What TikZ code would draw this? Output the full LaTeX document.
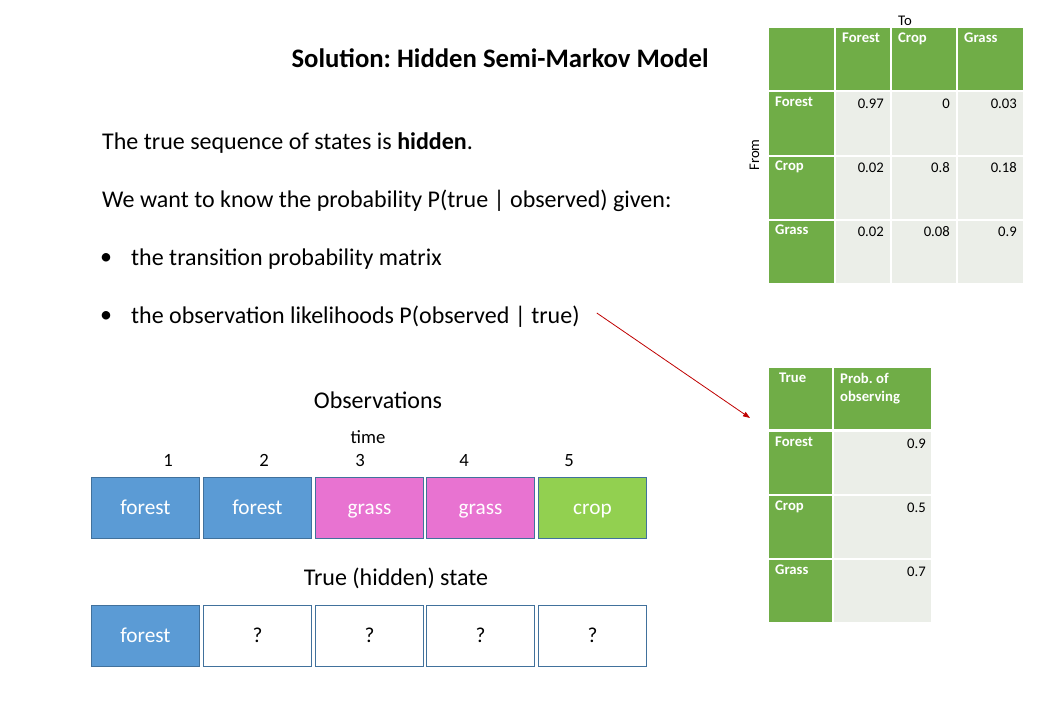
\documentclass[tikz,border=0pt]{standalone}
\usepackage{fontspec}
\setmainfont{Carlito}[Numbers=Lining]
\frenchspacing
\usetikzlibrary{arrows.meta}
\definecolor{fblue}{HTML}{5B9BD5}
\definecolor{fpink}{HTML}{E873D1}
\definecolor{fgreen}{HTML}{92D050}
\definecolor{bedge}{HTML}{41719C}
\definecolor{tgreen}{HTML}{70AD47}
\definecolor{tlight}{HTML}{EBEEE8}
\definecolor{arrred}{HTML}{C00000}
\tikzset{
  body/.style={font=\fontsize{24}{29}\selectfont, inner sep=0pt, anchor=west},
  num/.style={font=\fontsize{18.7}{22}\selectfont, inner sep=0pt, text height=13pt, text depth=4pt},
  obsbox/.style={draw=bedge, line width=0.9pt, minimum width=108pt, minimum height=61pt, inner sep=0pt, anchor=north west, font=\fontsize{21.3}{25}\selectfont, text height=16.5pt, text depth=3.5pt},
  th/.style={font=\bfseries\fontsize{14.7}{18}\selectfont, text=white, inner sep=0pt, anchor=north west, align=left},
  tv/.style={font=\fontsize{14.7}{18}\selectfont, inner sep=0pt, anchor=north east, text height=11pt, text depth=3pt},
}
\begin{document}
\begin{tikzpicture}[x=1pt,y=-1pt]
\useasboundingbox[fill=white] (0,0) rectangle (1040,720);
% title
\node[font=\bfseries\fontsize{26.7}{32}\selectfont, inner sep=0pt] (title) at (500,58) {Solution: Hidden Semi-Markov Model};
% body
\node[body] (l1) at (102,143) {The true sequence of states is \textbf{hidden}.};
\node[body] (l2) at (102,201) {We want to know the probability P(true | observed) given:};
\node[body] (b1d) at (100,259) {•};
\node[body] (b1) at (131,259) {the transition probability matrix};
\node[body] (b2d) at (100,317) {•};
\node[body] (b2) at (131,317) {the observation likelihoods P(observed | true)};
% observations
\node[body, anchor=center] (obs) at (378,400) {Observations};
\node[num] (time) at (368,439) {time};
\node[num] (t1) at (168,462) {1};
\node[num] (t2) at (264,462) {2};
\node[num] (t3) at (360,462) {3};
\node[num] (t4) at (464,462) {4};
\node[num] (t5) at (569,462) {5};
\node[obsbox, fill=fblue, text=white] (o1) at (91,477) {forest};
\node[obsbox, fill=fblue, text=white] (o2) at (203,477) {forest};
\node[obsbox, fill=fpink, text=white] (o3) at (315,477) {grass};
\node[obsbox, fill=fpink, text=white] (o4) at (426,477) {grass};
\node[obsbox, fill=fgreen, text=white] (o5) at (538,477) {crop};
\node[body, anchor=center] (hid) at (396,578) {True (hidden) state};
\node[obsbox, fill=fblue, text=white] (h1) at (91,605) {forest};
\node[obsbox, fill=white] (h2) at (203,605) {?};
\node[obsbox, fill=white] (h3) at (315,605) {?};
\node[obsbox, fill=white] (h4) at (426,605) {?};
\node[obsbox, fill=white] (h5) at (538,605) {?};
% transition table
\node[num, font=\fontsize{14.7}{18}\selectfont, text height=11pt, text depth=3pt] (to) at (905,21) {To};
\node[num, font=\fontsize{14.7}{18}\selectfont, text height=11pt, text depth=3pt, rotate=90] (from) at (755,155) {From};
\fill[tgreen] (769,28) rectangle (834,90);
\fill[tgreen] (836,28) rectangle (890,90);
\fill[tgreen] (892,28) rectangle (956,90);
\fill[tgreen] (958,28) rectangle (1023,90);
\foreach \ya/\yb in {92/155,157/219,221/283}{
  \fill[tgreen] (769,\ya) rectangle (834,\yb);
  \fill[tlight] (836,\ya) rectangle (890,\yb);
  \fill[tlight] (892,\ya) rectangle (956,\yb);
  \fill[tlight] (958,\ya) rectangle (1023,\yb);
}
\node[th] (c1) at (842,33) {Forest};
\node[th] (c2) at (898,33) {Crop};
\node[th] (c3) at (964,33) {Grass};
\node[th] (r1) at (775,97) {Forest};
\node[th] (r2) at (775,161) {Crop};
\node[th] (r3) at (775,225) {Grass};
\node[tv] (v11) at (884,97) {0.97};
\node[tv] (v12) at (950,97) {0};
\node[tv] (v13) at (1017,97) {0.03};
\node[tv] (v21) at (884,161) {0.02};
\node[tv] (v22) at (950,161) {0.8};
\node[tv] (v23) at (1017,161) {0.18};
\node[tv] (v31) at (884,225) {0.02};
\node[tv] (v32) at (950,225) {0.08};
\node[tv] (v33) at (1017,225) {0.9};
% observation table
\fill[tgreen] (769,368) rectangle (832,429);
\fill[tgreen] (834,368) rectangle (931,429);
\foreach \ya/\yb in {432/494,496/558,560/622}{
  \fill[tgreen] (769,\ya) rectangle (832,\yb);
  \fill[tlight] (834,\ya) rectangle (931,\yb);
}
\node[th] (tt) at (779,373) {True};
\node[th] (tp) at (840,373) {Prob. of\\observing};
\node[th] (s1) at (775,437) {Forest};
\node[th] (s2) at (775,501) {Crop};
\node[th] (s3) at (775,565) {Grass};
\node[tv] (p1) at (926,437) {0.9};
\node[tv] (p2) at (926,501) {0.5};
\node[tv] (p3) at (926,565) {0.7};
% arrow
\coordinate (aS) at ([xshift=17pt,yshift=4pt]b2.east);
\coordinate (aE) at (750,418);
\draw[arrred, line width=0.8pt, -{Triangle[length=7pt,width=5pt]}] (aS) -- (aE);
\end{tikzpicture}
\end{document}
